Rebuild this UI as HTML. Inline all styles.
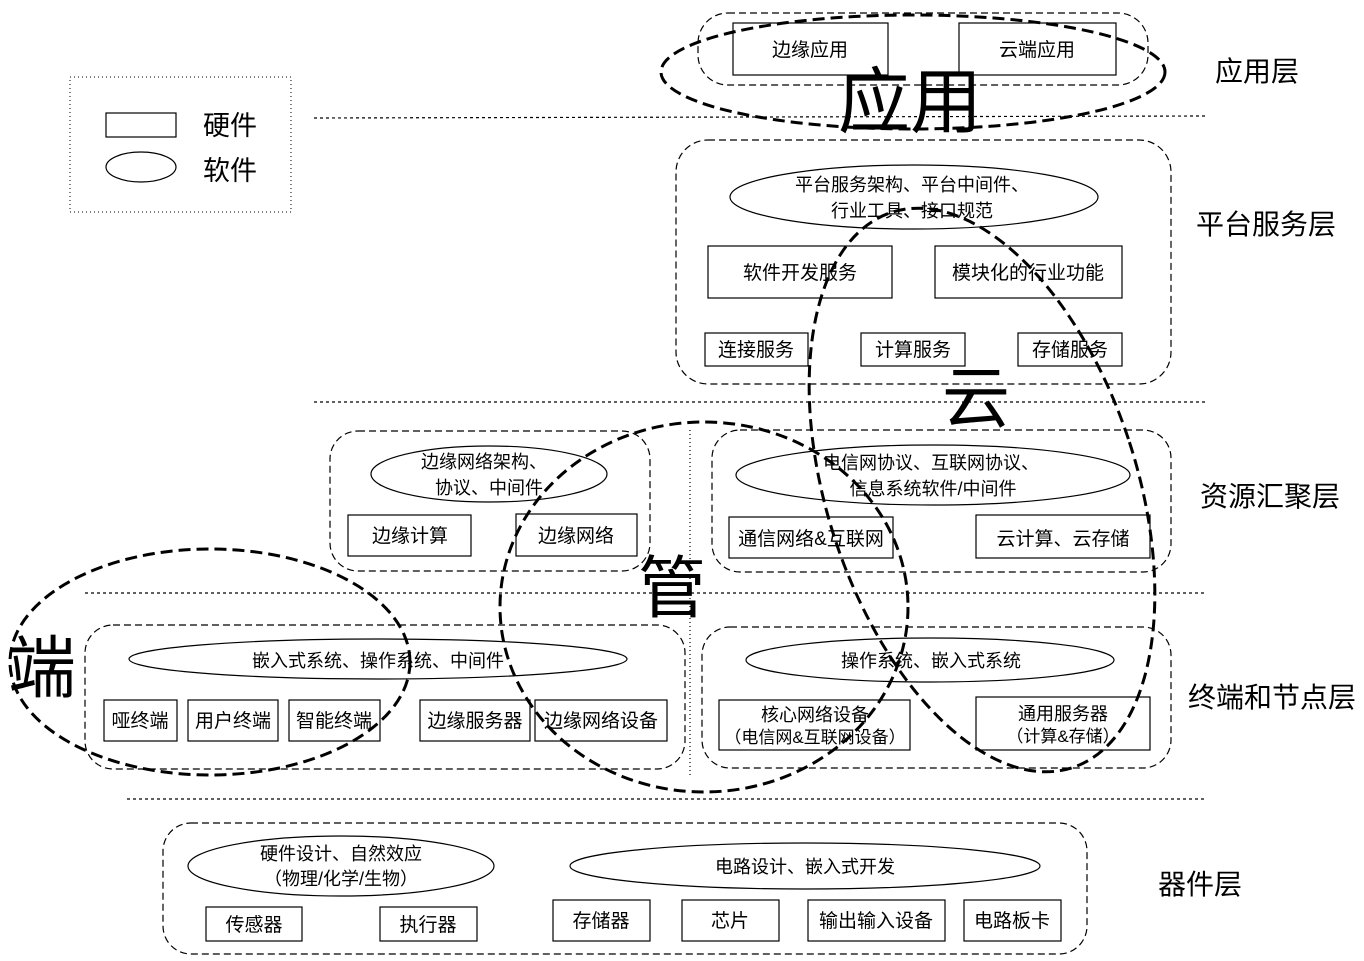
<!DOCTYPE html>
<html><head><meta charset="utf-8"><style>
body{margin:0;background:#fff}
text{font-family:"Liberation Sans","Noto Sans CJK SC",sans-serif;fill:#000}
</style></head><body>
<svg width="1364" height="956" xmlns="http://www.w3.org/2000/svg">
<g fill="none" stroke="#000">
<rect x="70" y="77" width="221" height="135" stroke-dasharray="1,3" stroke-width="1"/>
<rect x="106" y="113" width="70" height="24" stroke-width="1.2"/>
<ellipse cx="141" cy="167" rx="35" ry="15" stroke-width="1.2"/>
<g stroke-dasharray="3,3" stroke-width="1.2">
<line x1="314" y1="118" x2="1205" y2="116"/>
<line x1="314" y1="402" x2="1205" y2="402"/>
<line x1="85" y1="593" x2="1205" y2="593"/>
<line x1="127" y1="799" x2="1205" y2="799"/>
<line x1="690" y1="430" x2="690" y2="775" stroke-dasharray="1,3"/>
</g>
<g stroke-dasharray="7,4" stroke-width="1.2">
<rect x="698" y="13" width="450" height="72" rx="30"/>
<rect x="676" y="140" width="495" height="244" rx="32"/>
<rect x="330" y="431" width="320" height="140" rx="28"/>
<rect x="712" y="430" width="459" height="142" rx="28"/>
<rect x="85" y="625" width="600" height="144" rx="28"/>
<rect x="702" y="627" width="469" height="141" rx="28"/>
<rect x="163" y="823" width="924" height="131" rx="28"/>
</g>
<g stroke-width="1.2">
<ellipse cx="914" cy="197" rx="184" ry="32"/>
<ellipse cx="489" cy="474" rx="118" ry="28"/>
<ellipse cx="933" cy="475" rx="197" ry="30"/>
<ellipse cx="378" cy="659" rx="249" ry="20"/>
<ellipse cx="930" cy="660" rx="184" ry="22"/>
<ellipse cx="341" cy="866" rx="153" ry="30"/>
<ellipse cx="805" cy="866" rx="235" ry="23"/>
</g>
<g stroke-width="1.2">
<rect x="733" y="23" width="155" height="52"/>
<rect x="959" y="23" width="157" height="52"/>
<rect x="708" y="246" width="184" height="52"/>
<rect x="935" y="246" width="187" height="52"/>
<rect x="705" y="333" width="103" height="33"/>
<rect x="861" y="333" width="104" height="33"/>
<rect x="1018" y="333" width="104" height="33"/>
<rect x="348" y="515" width="123" height="41"/>
<rect x="516" y="514" width="121" height="42"/>
<rect x="729" y="517" width="164" height="41"/>
<rect x="976" y="515" width="174" height="43"/>
<rect x="104" y="700" width="73" height="41"/>
<rect x="188" y="700" width="90" height="41"/>
<rect x="289" y="700" width="91" height="41"/>
<rect x="420" y="700" width="110" height="41"/>
<rect x="535" y="700" width="132" height="41"/>
<rect x="719" y="700" width="191" height="50"/>
<rect x="976" y="697" width="174" height="53"/>
<rect x="206" y="907" width="96" height="34"/>
<rect x="380" y="907" width="97" height="34"/>
<rect x="553" y="900" width="97" height="41"/>
<rect x="682" y="900" width="97" height="41"/>
<rect x="808" y="900" width="137" height="41"/>
<rect x="964" y="900" width="97" height="41"/>
</g>
<g stroke-width="3" stroke-dasharray="12,6">
<ellipse cx="913" cy="72" rx="252" ry="57"/>
<ellipse cx="982" cy="490" rx="155" ry="292" transform="rotate(-18 982 490)"/>
<ellipse cx="704" cy="607" rx="204" ry="185"/>
<ellipse cx="210" cy="662" rx="200" ry="113"/>
</g>
</g>
<text x="203" y="135" font-size="27">硬件</text>
<text x="203" y="180" font-size="27">软件</text>
<text x="838" y="127" font-size="72">应用</text>
<text x="942" y="422" font-size="68">云</text>
<text x="638" y="612" font-size="68">管</text>
<text x="8" y="692" font-size="68">端</text>
<g font-size="28">
<text x="1215" y="81">应用层</text>
<text x="1196" y="234">平台服务层</text>
<text x="1200" y="506">资源汇聚层</text>
<text x="1188" y="707">终端和节点层</text>
<text x="1158" y="894">器件层</text>
</g>
<g font-size="19" text-anchor="middle">
<text x="810" y="56">边缘应用</text>
<text x="1037" y="56">云端应用</text>
<text x="912" y="191" font-size="18">平台服务架构、平台中间件、</text>
<text x="912" y="217" font-size="18">行业工具、接口规范</text>
<text x="800" y="279">软件开发服务</text>
<text x="1028" y="279">模块化的行业功能</text>
<text x="756" y="356">连接服务</text>
<text x="913" y="356">计算服务</text>
<text x="1070" y="356">存储服务</text>
<text x="484" y="468" font-size="18">边缘网络架构、</text>
<text x="489" y="494" font-size="18">协议、中间件</text>
<text x="931" y="469" font-size="18">电信网协议、互联网协议、</text>
<text x="933" y="495" font-size="18">信息系统软件/中间件</text>
<text x="410" y="542">边缘计算</text>
<text x="576" y="542">边缘网络</text>
<text x="811" y="545">通信网络&amp;互联网</text>
<text x="1063" y="545">云计算、云存储</text>
<text x="378" y="667" font-size="18">嵌入式系统、操作系统、中间件</text>
<text x="931" y="667" font-size="18">操作系统、嵌入式系统</text>
<text x="140" y="727">哑终端</text>
<text x="233" y="727">用户终端</text>
<text x="334" y="727">智能终端</text>
<text x="475" y="727">边缘服务器</text>
<text x="601" y="727">边缘网络设备</text>
<text x="815" y="721" font-size="18">核心网络设备</text>
<text x="815" y="743" font-size="17">（电信网&amp;互联网设备）</text>
<text x="1063" y="720" font-size="18">通用服务器</text>
<text x="1063" y="742" font-size="17">（计算&amp;存储）</text>
<text x="341" y="860" font-size="18">硬件设计、自然效应</text>
<text x="341" y="885" font-size="18">（物理/化学/生物）</text>
<text x="805" y="873" font-size="18">电路设计、嵌入式开发</text>
<text x="254" y="931">传感器</text>
<text x="428" y="931">执行器</text>
<text x="601" y="927">存储器</text>
<text x="730" y="927">芯片</text>
<text x="876" y="927">输出输入设备</text>
<text x="1012" y="927">电路板卡</text>
</g>
</svg>
</body></html>
